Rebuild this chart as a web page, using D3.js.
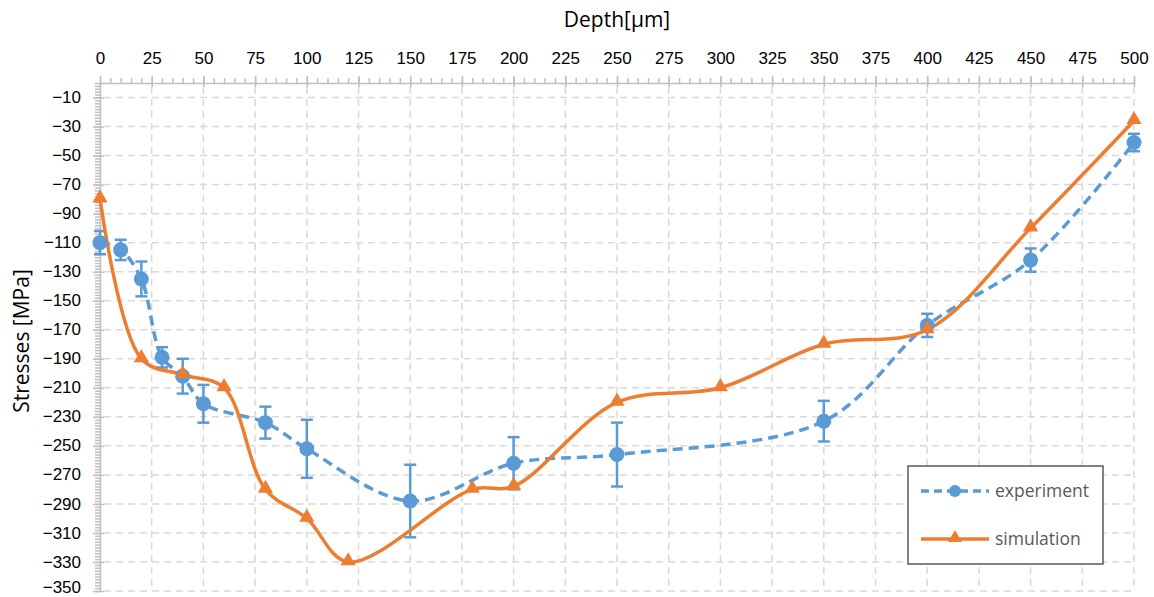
<!DOCTYPE html>
<html>
<head>
<meta charset="utf-8">
<script src="https://cdn.jsdelivr.net/npm/d3@7"></script>
<style>
  body { margin: 0; background: #fff; }
  svg { font-family: "Open Sans", "Noto Sans", sans-serif; }
  .grid line { stroke: #d9d9d9; stroke-width: 1.5; stroke-dasharray: 7 5; }
  .axis path, .axis line { stroke: #bfbfbf; stroke-width: 1.5; }
  .axis text { fill: #000; font-size: 17px; }
</style>
</head>
<body>
<script>
// depth in um, stress in MPa
const expDepth = [0, 10, 20, 30, 40, 50, 80, 100, 150, 200, 250, 350, 400, 450, 500];
const expStress = [-110, -115, -135, -189, -202, -221, -234, -252, -288, -262, -256, -233, -167, -122, -41];
const expError = [8, 7, 12, 7, 12, 13, 11, 20, 25, 18, 22, 14, 8, 8, 6];
const simDepth = [0, 20, 40, 60, 80, 100, 120, 180, 200, 250, 300, 350, 400, 450, 500];
const simStress = [-80, -190, -201, -210, -280, -300, -330, -280, -278, -220, -210, -180, -170, -100, -26];
const xTicks = d3.range(0, 501, 25);
const yTicks = d3.range(-10, -351, -20);
const seriesNames = ['experiment', 'simulation'];

const width = 1154;
const height = 597;
const blue = '#5b9bd5';
const orange = '#ed7d31';

const x = d3.scaleLinear().domain([0, 500]).range([100, 1134]);
const y = d3.scaleLinear().domain([0, -350]).range([83, 591]);

const svg = d3.select('body').append('svg')
  .attr('width', width)
  .attr('height', height);

// grid
svg.append('g')
  .attr('class', 'grid')
  .selectAll('line')
  .data(xTicks.slice(1))
  .enter().append('line')
  .attr('x1', d => x(d)).attr('x2', d => x(d))
  .attr('y1', y(0) + 4).attr('y2', y(-350));
svg.append('g')
  .attr('class', 'grid')
  .selectAll('line')
  .data(yTicks)
  .enter().append('line')
  .attr('x1', x(0) + 4).attr('x2', x(500))
  .attr('y1', d => y(d)).attr('y2', d => y(d));

// minor ticks
svg.append('g')
  .attr('class', 'axis')
  .attr('transform', `translate(0,${y(0)})`)
  .call(d3.axisTop(x).tickValues(d3.range(0, 501, 5)).tickSize(5).tickFormat(''))
  .call(g => g.select('.domain').remove());
svg.append('g')
  .attr('class', 'axis')
  .attr('transform', `translate(${x(0)},0)`)
  .call(d3.axisLeft(y).tickValues(d3.range(0, -351, -2)).tickSize(5).tickFormat(''))
  .call(g => g.select('.domain').remove());

// major axes
svg.append('g')
  .attr('class', 'axis')
  .attr('transform', `translate(0,${y(0)})`)
  .call(d3.axisTop(x).tickValues(xTicks).tickSize(7).tickSizeOuter(0).tickPadding(12))
  .call(g => g.selectAll('.tick line').attr('y2', -7).attr('y1', 4));
svg.append('g')
  .attr('class', 'axis')
  .attr('transform', `translate(${x(0)},0)`)
  .call(d3.axisLeft(y).tickValues(yTicks).tickSize(7).tickSizeOuter(0).tickPadding(12))
  .call(g => g.selectAll('.tick line').attr('x2', -7).attr('x1', 4))
  .call(g => g.selectAll('.tick text').attr('dy', d => d === -350 ? '0.1em' : '0.3em'));

// titles
svg.append('text')
  .attr('x', (x(0) + x(500)) / 2)
  .attr('y', 27)
  .attr('text-anchor', 'middle')
  .attr('font-size', 21)
  .text('Depth[μm]');
svg.append('text')
  .attr('transform', `translate(29,${(y(0) + y(-350)) / 2 + 4}) rotate(-90)`)
  .attr('text-anchor', 'middle')
  .attr('font-size', 21)
  .text('Stresses [MPa]');

const line = d3.line()
  .x(d => x(d[0]))
  .y(d => y(d[1]))
  .curve(d3.curveCatmullRom.alpha(0.5));

const expData = expDepth.map((d, i) => [d, expStress[i], expError[i]]);
const simData = simDepth.map((d, i) => [d, simStress[i]]);

// experiment
svg.append('path')
  .datum(expData)
  .attr('fill', 'none')
  .attr('stroke', blue)
  .attr('stroke-width', 3.5)
  .attr('stroke-dasharray', '10 6')
  .attr('d', line);

const err = svg.append('g').attr('stroke', blue).attr('stroke-width', 2.5);
err.selectAll('.bar')
  .data(expData)
  .enter().append('line')
  .attr('x1', d => x(d[0])).attr('x2', d => x(d[0]))
  .attr('y1', d => y(d[1] + d[2])).attr('y2', d => y(d[1] - d[2]));
err.selectAll('.cap-top')
  .data(expData)
  .enter().append('line')
  .attr('x1', d => x(d[0]) - 6).attr('x2', d => x(d[0]) + 6)
  .attr('y1', d => y(d[1] + d[2])).attr('y2', d => y(d[1] + d[2]));
err.selectAll('.cap-bot')
  .data(expData)
  .enter().append('line')
  .attr('x1', d => x(d[0]) - 6).attr('x2', d => x(d[0]) + 6)
  .attr('y1', d => y(d[1] - d[2])).attr('y2', d => y(d[1] - d[2]));

// simulation
svg.append('path')
  .datum(simData)
  .attr('fill', 'none')
  .attr('stroke', orange)
  .attr('stroke-width', 3.5)
  .attr('d', line);

const tri = d3.symbol().type(d3.symbolTriangle).size(100);

svg.append('g')
  .selectAll('circle')
  .data(expData)
  .enter().append('circle')
  .attr('cx', d => x(d[0]))
  .attr('cy', d => y(d[1]))
  .attr('r', 7.5)
  .attr('fill', blue);

svg.append('g')
  .selectAll('path')
  .data(simData)
  .enter().append('path')
  .attr('transform', d => `translate(${x(d[0])},${y(d[1]) - 1})`)
  .attr('d', tri)
  .attr('fill', orange);

// legend
const legend = svg.append('g').attr('transform', 'translate(908,466)');
legend.append('rect')
  .attr('width', 195)
  .attr('height', 98)
  .attr('fill', '#fff')
  .attr('stroke', '#595959')
  .attr('stroke-width', 1.5);

seriesNames.forEach((name, i) => {
  const ly = 25 + i * 48;
  const g = legend.append('g').attr('transform', `translate(0,${ly})`);
  g.append('line')
    .attr('x1', 13).attr('x2', 81)
    .attr('y1', 0).attr('y2', 0)
    .attr('stroke', i === 0 ? blue : orange)
    .attr('stroke-width', 3.5)
    .attr('stroke-dasharray', i === 0 ? '8 5' : null);
  if (i === 0) {
    g.append('circle').attr('cx', 47).attr('cy', 0).attr('r', 6).attr('fill', blue);
  } else {
    g.append('path')
      .attr('transform', 'translate(47,-1)')
      .attr('d', d3.symbol().type(d3.symbolTriangle).size(85))
      .attr('fill', orange);
  }
  g.append('text')
    .attr('x', 87)
    .attr('y', 0)
    .attr('dy', '0.35em')
    .attr('font-size', 17.5)
    .attr('fill', '#595959')
    .text(name);
});
</script>
</body>
</html>
